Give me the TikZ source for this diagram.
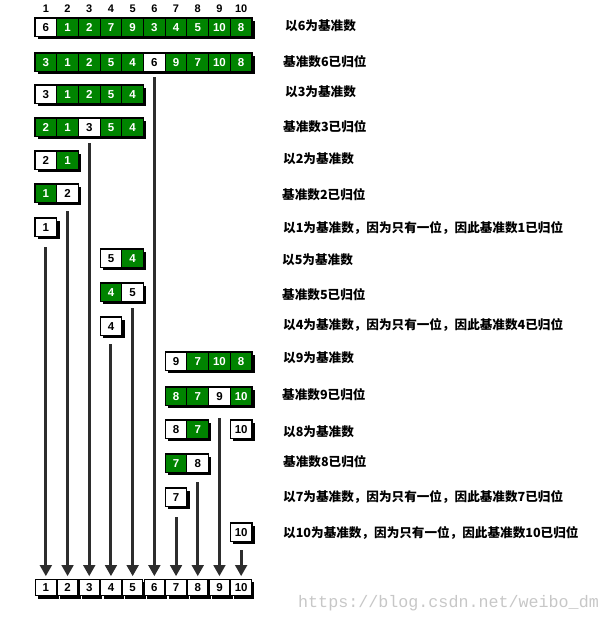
\documentclass[tikz,border=0pt]{standalone}
\usepackage{fontspec}
\setmainfont{Liberation Sans}
\newfontfamily\cjk{Noto Sans CJK SC}
\newfontfamily\wmfont{Liberation Mono}
\usetikzlibrary{arrows.meta,shadows}
\definecolor{cellgreen}{RGB}{0,132,0}
\definecolor{arrgray}{RGB}{45,45,45}
\tikzset{
  cell/.style={draw=black,line width=1.1pt,minimum width=21.7pt,minimum height=18.5pt,inner sep=0pt,
    font=\fontsize{11.5}{11.5}\selectfont\bfseries,
    drop shadow={shadow xshift=2.8pt,shadow yshift=-2.8pt,fill=black,opacity=1}},
  w/.style={fill=white,text=black},
  g/.style={fill=cellgreen,text=white},
  bcell/.style={cell,w,minimum width=20.5pt,minimum height=16.5pt},
  hdr/.style={font=\fontsize{11}{11}\selectfont\bfseries,inner sep=0pt},
  lbl/.style={anchor=west,inner sep=0pt,font=\cjk\bfseries\fontsize{12.6}{12.6}\selectfont},
  arr/.style={draw=arrgray,line width=3pt,-{Triangle[length=11pt,width=11.5pt]},shorten >=2.5pt},
}
\newcommand\boxrow[4]{%
  \foreach \v/\s [count=\k from 0] in {#4} {
    \pgfmathsetmacro\cx{35+(#3-1+\k+0.5)*21.7}
    \pgfmathtruncatemacro\col{#3+\k}
    \node[cell,\s] (#1-\col) at (\cx,-#2-9.25) {\v};
  }}
\begin{document}
\begin{tikzpicture}[x=1pt,y=1pt]
\useasboundingbox (0,0) rectangle (609,-621);
% column headers
\foreach \i in {1,...,10} {
  \pgfmathsetmacro\cx{35+(\i-0.5)*21.7}
  \node[hdr] (h\i) at (\cx,-9) {\i};
}
% rows
\boxrow{r1}{18}{1}{6/w,1/g,2/g,7/g,9/g,3/g,4/g,5/g,10/g,8/g}
\boxrow{r2}{53}{1}{3/g,1/g,2/g,5/g,4/g,6/w,9/g,7/g,10/g,8/g}
\boxrow{r3}{85}{1}{3/w,1/g,2/g,5/g,4/g}
\boxrow{r4}{118}{1}{2/g,1/g,3/w,5/g,4/g}
\boxrow{r5}{151}{1}{2/w,1/g}
\boxrow{r6}{184}{1}{1/g,2/w}
\boxrow{r7}{218}{1}{1/w}
\boxrow{r8}{249}{4}{5/w,4/g}
\boxrow{r9}{283}{4}{4/g,5/w}
\boxrow{r10}{317}{4}{4/w}
\boxrow{r11}{352}{7}{9/w,7/g,10/g,8/g}
\boxrow{r12}{387}{7}{8/g,7/g,9/w,10/g}
\boxrow{r13}{420}{7}{8/w,7/g}
\boxrow{r13b}{420}{10}{10/w}
\boxrow{r14}{454}{7}{7/g,8/w}
\boxrow{r15}{488}{7}{7/w}
\boxrow{r16}{523}{10}{10/w}
% bottom row
\foreach \i in {1,...,10} {
  \pgfmathsetmacro\cx{35+(\i-0.5)*21.7}
  \node[bcell] (b-\i) at (\cx,-587.5) {\i};
}
% arrow starts
\coordinate (s1) at (35+0.5*21.7,-247);
\coordinate (s2) at (35+1.5*21.7,-211);
\coordinate (s3) at (35+2.5*21.7,-143);
\coordinate (s4) at (35+3.5*21.7,-344);
\coordinate (s5) at (35+4.5*21.7,-308);
\coordinate (s6) at (35+5.5*21.7,-77);
\coordinate (s7) at (35+6.5*21.7,-517);
\coordinate (s8) at (35+7.5*21.7,-482);
\coordinate (s9) at (35+8.5*21.7,-418);
\coordinate (s10) at (35+9.5*21.7,-550);
\foreach \i in {1,...,10} { \draw[arr] (s\i) -- (b-\i.north); }
% labels
\node[lbl] (t1) at (285,-26) {以6为基准数};
\node[lbl] (t2) at (283,-62) {基准数6已归位};
\node[lbl] (t3) at (285,-92) {以3为基准数};
\node[lbl] (t4) at (283,-127) {基准数3已归位};
\node[lbl] (t5) at (283,-159) {以2为基准数};
\node[lbl] (t6) at (282,-195) {基准数2已归位};
\node[lbl] (t7) at (283,-228) {以1为基准数，因为只有一位，因此基准数1已归位};
\node[lbl] (t8) at (282,-260) {以5为基准数};
\node[lbl] (t9) at (282,-295) {基准数5已归位};
\node[lbl] (t10) at (283,-325) {以4为基准数，因为只有一位，因此基准数4已归位};
\node[lbl] (t11) at (283,-358) {以9为基准数};
\node[lbl] (t12) at (282,-395) {基准数9已归位};
\node[lbl] (t13) at (283,-432) {以8为基准数};
\node[lbl] (t14) at (283,-462) {基准数8已归位};
\node[lbl] (t15) at (283,-497) {以7为基准数，因为只有一位，因此基准数7已归位};
\node[lbl] (t16) at (283,-533) {以10为基准数，因为只有一位，因此基准数10已归位};
% watermark
\node[anchor=west,inner sep=0pt,text=black!22,font=\wmfont\fontsize{16.7}{16.7}\selectfont] (wm) at (298,-603) {https://blog.csdn.net/weibo\_dm};
\end{tikzpicture}
\end{document}
